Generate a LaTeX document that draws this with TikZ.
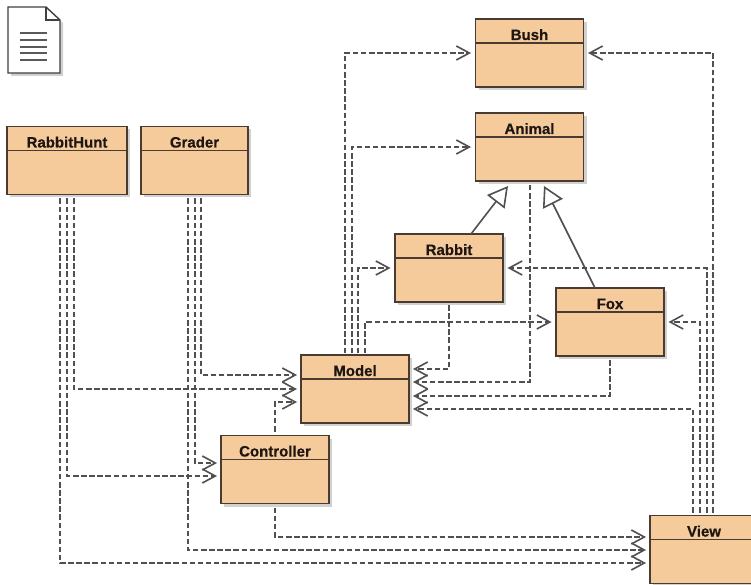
\documentclass[tikz,border=0pt]{standalone}
\usepackage{fontspec}
\setmainfont[BoldFeatures={FakeBold=0.6}]{Liberation Sans}
\usetikzlibrary{arrows.meta,shadows,positioning}
\definecolor{boxfill}{HTML}{F5CB9C}
\definecolor{boxline}{HTML}{4A3B32}
\definecolor{depline}{HTML}{505050}
\definecolor{titletext}{HTML}{1E1612}
\tikzset{
  umlbox/.style={draw=boxline,line width=1.6pt,fill=boxfill,inner sep=0pt,outer sep=0pt,
    minimum height=68pt,minimum width=108pt,
    drop shadow={shadow xshift=3pt,shadow yshift=-3pt,fill=black!18,opacity=1}},
  umltitle/.style={anchor=base,inner sep=0pt,text=titletext,font=\fontsize{15}{15}\selectfont\bfseries},
  umldiv/.style={draw=boxline,line width=1.5pt},
  dep/.style={draw=depline,line width=1.6pt,dash pattern=on 5.5pt off 2.6pt,
    -{Straight Barb[length=13pt,width=14pt,line width=1.6pt]}},
  inherit/.style={draw=depline,line width=1.6pt,
    -{Triangle[open,length=20pt,width=22pt,line width=1.6pt,fill=white]}},
  icon/.style={draw=black!75,line width=1.4pt,fill=white},
  iconrule/.style={draw=black!65,line width=1.3pt},
}
\newcommand{\umlclass}[5][108pt]{%
  \node[umlbox,minimum width=#1] (#2) at (#3,#4) {};
  \node[umltitle] (#2title) at ([yshift=-21pt]#2.north) {#5};
  \draw[umldiv] ([yshift=-24pt]#2.north west) -- ([yshift=-24pt]#2.north east);
}
\begin{document}
\begin{tikzpicture}[x=1pt,y=-1pt]
\clip (0,0) rectangle (751,585);
\fill[white] (0,0) rectangle (751,585);
% document icon
\fill[black!18] (11,10) -- (49,10) -- (63,23) -- (63,76) -- (11,76) -- cycle;
\draw[icon,line join=miter] (8,7) -- (46,7) -- (60,20) -- (60,73) -- (8,73) -- cycle;
\draw[icon,fill=none] (46,7) -- (46,20) -- (60,20);
\foreach \yy in {33,40,47,53,60}{\draw[iconrule] (20,\yy) -- (47,\yy);}
% classes
\umlclass[120pt]{RabbitHunt}{67}{160.5}{RabbitHunt}
\umlclass[107pt]{Grader}{194.5}{160.5}{Grader}
\umlclass{Bush}{529.5}{53}{Bush}
\umlclass{Animal}{529.5}{147}{Animal}
\umlclass{Rabbit}{449}{268}{Rabbit}
\umlclass{Fox}{610}{322}{Fox}
\umlclass{Model}{355}{389}{Model}
\umlclass{Controller}{275}{469.5}{Controller}
\umlclass{View}{704}{549.5}{View}
% inheritance
\draw[inherit] ([xshift=22pt]Rabbit.north) -- ([shift={(-21.5pt,-5pt)}]Animal.south);
\draw[inherit] ([xshift=-15pt]Fox.north) -- ([shift={(14.5pt,-5pt)}]Animal.south);
% Model uses
\draw[dep] ([shift={(-10pt,2pt)}]Model.north) |- ([xshift=-4.5pt]Bush.west);
\draw[dep] ([shift={(-3pt,2pt)}]Model.north) |- ([xshift=-4.5pt]Animal.west);
\draw[dep] ([shift={(3pt,2pt)}]Model.north) |- ([xshift=-4.5pt]Rabbit.west);
\draw[dep] ([shift={(10pt,2pt)}]Model.north) |- ([xshift=-4.5pt]Fox.west);
% into Model, right side
\draw[dep] ([yshift=-3pt]Rabbit.south) |- ([shift={(4pt,20pt)}]Model.east);
\draw[dep] ([shift={(0.5pt,-4pt)}]Animal.south) |- ([shift={(4pt,7pt)}]Model.east);
\draw[dep] ([yshift=-4pt]Fox.south) |- ([shift={(4pt,-7pt)}]Model.east);
% View uses
\draw[dep] ([shift={(-11pt,3pt)}]View.north) |- ([shift={(4pt,-20pt)}]Model.east);
\draw[dep] ([shift={(-4pt,3pt)}]View.north) |- ([xshift=4.5pt]Fox.east);
\draw[dep] ([shift={(3pt,3pt)}]View.north) |- ([xshift=4.5pt]Rabbit.east);
\draw[dep] ([shift={(9pt,3pt)}]View.north) |- ([xshift=4.5pt]Bush.east);
% RabbitHunt uses
\draw[dep] ([shift={(7pt,-4pt)}]RabbitHunt.south) |- ([xshift=-4pt]Model.west);
\draw[dep] ([shift={(0pt,-4pt)}]RabbitHunt.south) |- ([shift={(-4pt,-6.5pt)}]Controller.west);
\draw[dep] ([shift={(-7pt,-4pt)}]RabbitHunt.south) |- ([shift={(-4pt,-13.5pt)}]View.west);
% Grader uses
\draw[dep] ([shift={(6.5pt,-4pt)}]Grader.south) |- ([shift={(-4pt,14pt)}]Model.west);
\draw[dep] ([shift={(0.5pt,-4pt)}]Grader.south) |- ([shift={(-4pt,6.5pt)}]Controller.west);
\draw[dep] ([shift={(-6.5pt,-4pt)}]Grader.south) |- ([shift={(-4pt,-0.5pt)}]View.west);
% Controller uses
\draw[dep] ([yshift=4pt]Controller.north) |- ([shift={(-4pt,-13pt)}]Model.west);
\draw[dep] ([yshift=-4pt]Controller.south) |- ([shift={(-4pt,12.5pt)}]View.west);
\end{tikzpicture}
\end{document}
